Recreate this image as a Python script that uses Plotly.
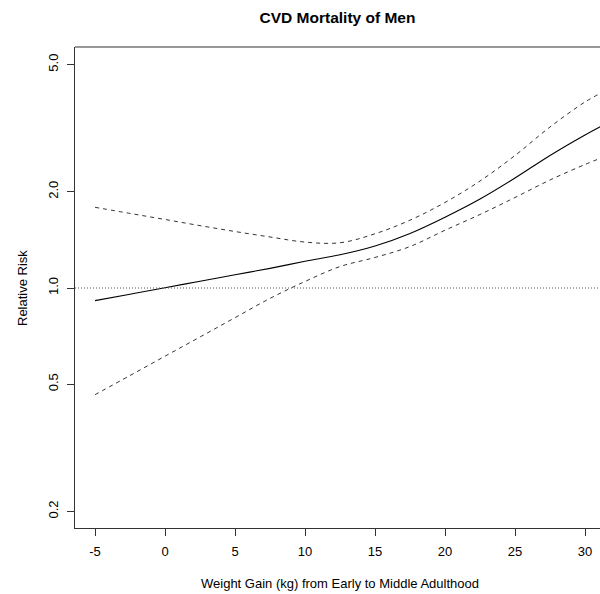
import plotly.graph_objects as go

# Data
weight_gain = [-5, -2.5, 0, 2.5, 5, 7.5, 10, 12.5, 15, 17.5, 20, 22.5, 25, 27.5, 30, 31.1]
rr_estimate = [0.913, 0.956, 1.002, 1.050, 1.100, 1.152, 1.212, 1.270, 1.353, 1.481,
               1.665, 1.898, 2.208, 2.597, 3.010, 3.196]
rr_upper = [1.788, 1.711, 1.638, 1.567, 1.502, 1.444, 1.392, 1.385, 1.478, 1.630,
            1.852, 2.161, 2.597, 3.189, 3.818, 4.064]
rr_lower = [0.4637, 0.5324, 0.6119, 0.7027, 0.8075, 0.9279, 1.048, 1.167, 1.246, 1.348,
            1.516, 1.698, 1.919, 2.177, 2.434, 2.545]

x_ticks = [-5, 0, 5, 10, 15, 20, 25, 30]
x_tick_labels = ["-5", "0", "5", "10", "15", "20", "25", "30"]
y_ticks = [0.2, 0.5, 1.0, 2.0, 5.0]
y_tick_labels = ["0.2", "0.5", "1.0", "2.0", "5.0"]

FONT = "Liberation Sans, Arial, sans-serif"

fig = go.Figure()
fig.add_trace(go.Scatter(x=weight_gain, y=rr_upper, mode="lines", line_shape="spline",
                         line=dict(color="#333", width=1, dash="4px,4px", smoothing=1),
                         showlegend=False))
fig.add_trace(go.Scatter(x=weight_gain, y=rr_lower, mode="lines", line_shape="spline",
                         line=dict(color="#333", width=1, dash="4px,4px", smoothing=1),
                         showlegend=False))
fig.add_trace(go.Scatter(x=weight_gain, y=rr_estimate, mode="lines", line_shape="spline",
                         line=dict(color="black", width=1.1, smoothing=1), showlegend=False))

# reference line at RR = 1
fig.add_hline(y=1.0, line=dict(color="#555", width=1, dash="1px,2px"))

# top border of the box (right border is cropped in the reference)
fig.add_shape(type="line", xref="paper", yref="paper", x0=0, x1=1, y0=1, y1=1,
              line=dict(color="#333", width=1))

fig.update_layout(
    width=600, height=594,
    margin=dict(l=75, r=0, t=47, b=66),
    paper_bgcolor="white", plot_bgcolor="white",
    font=dict(family=FONT, size=13, color="black"),
    title=dict(text="<b>CVD Mortality of Men</b>", x=0.5, xref="paper",
               y=1 - 18 / 594, yref="container", yanchor="middle",
               font=dict(family=FONT, size=15.5, color="black")),
    xaxis=dict(range=[-6.43, 31.07], tickvals=x_ticks, ticktext=x_tick_labels,
               ticks="outside", ticklen=7,
               tickcolor="#333", showline=True, linecolor="#333", linewidth=1,
               showgrid=False, zeroline=False, ticklabelstandoff=4,
               tickfont=dict(family=FONT, size=13, color="black")),
    yaxis=dict(type="log", range=[-0.7507, 0.7538], tickvals=y_ticks, ticktext=y_tick_labels,
               ticks="outside", ticklen=7, tickcolor="#333", tickangle=-90,
               showline=True, linecolor="#333", linewidth=1, showgrid=False, zeroline=False,
               ticklabelstandoff=4,
               tickfont=dict(family=FONT, size=13, color="black")),
    annotations=[
        dict(text="Weight Gain (kg) from Early to Middle Adulthood", xref="paper", yref="paper",
             x=(340 - 75) / 525, y=-(583 - 528) / 481, xanchor="center", yanchor="middle",
             showarrow=False, font=dict(family=FONT, size=13, color="black")),
        dict(text="Relative Risk", xref="paper", yref="paper", textangle=-90,
             x=-(75 - 22) / 525, y=(528 - 288) / 481, xanchor="center", yanchor="middle",
             showarrow=False, font=dict(family=FONT, size=13, color="black")),
    ],
)

fig.write_html("out.html")
